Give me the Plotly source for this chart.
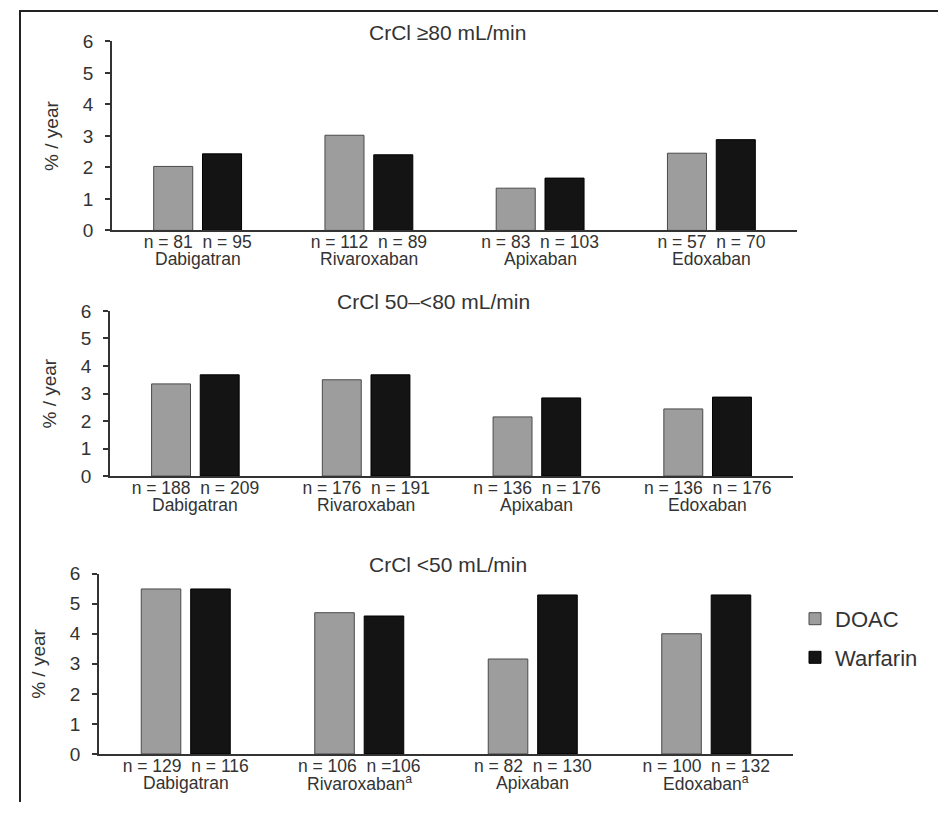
import plotly.graph_objects as go

W, H = 938, 813

# ---------------- data ----------------
drugs = ["Dabigatran", "Rivaroxaban", "Apixaban", "Edoxaban"]
drug_labels_low = ["Dabigatran", "Rivaroxaban<sup>a</sup>", "Apixaban", "Edoxaban<sup>a</sup>"]
panel_titles = ["CrCl ≥80 mL/min", "CrCl 50–<80 mL/min", "CrCl <50 mL/min"]
series_names = ["DOAC", "Warfarin"]

doac_80 = [2.03, 3.02, 1.34, 2.45]
warf_80 = [2.43, 2.40, 1.66, 2.88]
n_80 = ["n = 81  n = 95", "n = 112  n = 89", "n = 83  n = 103", "n = 57  n = 70"]

doac_50_80 = [3.35, 3.50, 2.15, 2.44]
warf_50_80 = [3.68, 3.68, 2.84, 2.87]
n_50_80 = ["n = 188  n = 209", "n = 176  n = 191", "n = 136  n = 176", "n = 136  n = 176"]

doac_50 = [5.49, 4.70, 3.16, 4.00]
warf_50 = [5.49, 4.59, 5.29, 5.29]
n_50 = ["n = 129  n = 116", "n = 106  n =106", "n = 82  n = 130", "n = 100  n = 132"]

y_ticks = [0, 1, 2, 3, 4, 5, 6]
y_title = "% / year"

# ---------------- style ----------------
FONT = "Liberation Sans, Arial, sans-serif"
TXT = "#333333"
DOAC_COL = "#9d9d9d"
WARF_COL = "#141414"

# vertical calibration of the photographed page
SY, OY = 0.9755, 9.3


def fy(y):
    return (y - OY) / SY


# panel boxes in picture pixels: left, right, top (y=6), bottom (y=0)
boxes = [(112, 797, 40.7, 230), (110, 793, 310.7, 476), (99, 793, 573.7, 754.3)]
title_pos = [0.49, 0.474, 0.503]

panels = [
    (doac_80, warf_80, n_80, drugs),
    (doac_50_80, warf_50_80, n_50_80, drugs),
    (doac_50, warf_50, n_50, drug_labels_low),
]

fig = go.Figure()
annotations = []
layout_axes = {}

for i, ((dv, wv, nl, dl), (l, r, t, b)) in enumerate(zip(panels, boxes)):
    k = "" if i == 0 else str(i + 1)
    xa, ya = "x" + k, "y" + k
    last = i == 2
    fig.add_trace(go.Bar(
        x=drugs, y=dv, name=series_names[0], xaxis=xa, yaxis=ya,
        marker=dict(color=DOAC_COL, line=dict(color="#4a4a4a", width=1)),
        showlegend=last, legendgroup="g1",
    ))
    fig.add_trace(go.Bar(
        x=drugs, y=wv, name=series_names[1], xaxis=xa, yaxis=ya,
        marker=dict(color=WARF_COL, line=dict(color="#000000", width=1)),
        showlegend=last, legendgroup="g2",
    ))
    layout_axes["xaxis" + k] = dict(
        domain=[l / W, r / W], anchor=ya, type="category",
        categoryorder="array", categoryarray=drugs,
        tickmode="array", tickvals=drugs,
        ticktext=[s.replace("  ", "\u00a0 ") for s in nl],
        showline=True, linecolor="#333333", linewidth=1.5,
        ticks="", showgrid=False, zeroline=False,
        ticklabelstandoff=-5,
        tickfont=dict(family=FONT, size=17.5, color=TXT),
    )
    layout_axes["yaxis" + k] = dict(
        domain=[(H - fy(b)) / H, (H - fy(t)) / H], anchor=xa, range=[0, 6],
        tickmode="array", tickvals=y_ticks,
        showline=True, linecolor="#333333", linewidth=1.5,
        ticks="outside", ticklen=5, tickcolor="#333333", tickwidth=1.5,
        ticklabelstandoff=8,
        showgrid=False, zeroline=False,
        tickfont=dict(family=FONT, size=19, color=TXT),
    )
    for d, lab in zip(drugs, dl):
        annotations.append(dict(
            x=d, y=0, xref=xa, yref=ya, text=lab, showarrow=False,
            yanchor="middle", yshift=-29,
            font=dict(family=FONT, size=17.5, color=TXT),
        ))
    annotations.append(dict(
        x=title_pos[i], y=1, xref=xa + " domain", yref=ya + " domain",
        text=panel_titles[i], showarrow=False, yanchor="middle", yshift=9,
        font=dict(family=FONT, size=21, color=TXT),
    ))
    annotations.append(dict(
        x=0, y=0.5, xref=xa + " domain", yref=ya + " domain",
        text=y_title, showarrow=False, textangle=-90,
        xanchor="center", yanchor="middle", xshift=-60,
        font=dict(family=FONT, size=19, color=TXT),
    ))

fig.update_layout(
    width=W, height=H,
    margin=dict(l=0, r=0, t=0, b=0),
    paper_bgcolor="white", plot_bgcolor="white",
    barmode="group", bargap=0.43, bargroupgap=0.2,
    annotations=annotations,
    legend=dict(
        x=795 / W, y=(H - fy(598)) / H, xanchor="left", yanchor="top",
        font=dict(family=FONT, size=22, color=TXT),
        tracegroupgap=7, bgcolor="rgba(0,0,0,0)",
    ),
    shapes=[
        dict(type="line", xref="paper", yref="paper", x0=20 / W, x1=1, y0=1 - 1 / H, y1=1 - 1 / H,
             line=dict(color="#222222", width=2)),
        dict(type="line", xref="paper", yref="paper", x0=20 / W, x1=20 / W, y0=0, y1=1,
             line=dict(color="#222222", width=2)),
    ],
    **layout_axes,
)

fig.write_html(
    "out.html",
    config={"displayModeBar": False},
    post_script="document.body.style.margin='0';",
)
